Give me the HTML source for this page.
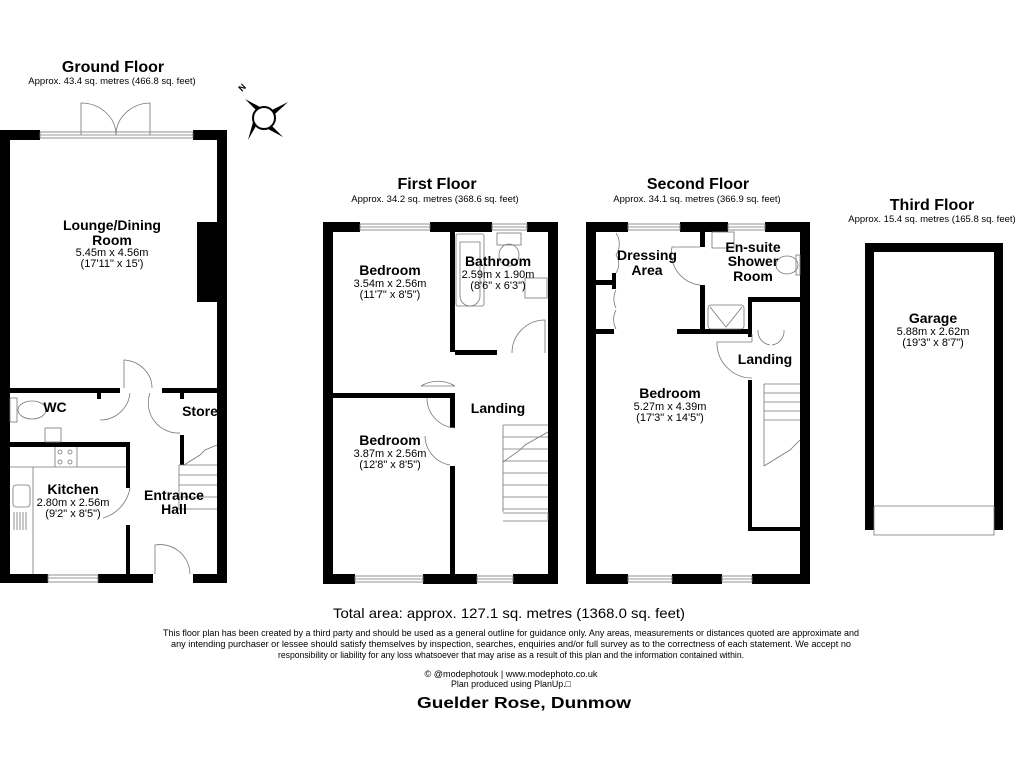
<!DOCTYPE html>
<html><head><meta charset="utf-8"><style>
html,body{margin:0;padding:0;background:#fff;}
svg{display:block;font-family:"Liberation Sans",Arial,sans-serif;}
.b{font-weight:bold;font-size:14px;}
.s{font-size:11px;}
.h{font-weight:bold;font-size:16px;}
</style></head><body>
<svg width="1024" height="768" viewBox="0 0 1024 768" xmlns="http://www.w3.org/2000/svg">
<rect width="1024" height="768" fill="#fff"/>

<!-- Titles -->
<text x="113" y="72" text-anchor="middle" class="h">Ground Floor</text>
<text x="112" y="84" text-anchor="middle" font-size="9.5">Approx. 43.4 sq. metres (466.8 sq. feet)</text>
<text x="437" y="189" text-anchor="middle" class="h">First Floor</text>
<text x="435" y="202" text-anchor="middle" font-size="9.5">Approx. 34.2 sq. metres (368.6 sq. feet)</text>
<text x="698" y="189" text-anchor="middle" class="h">Second Floor</text>
<text x="697" y="202" text-anchor="middle" font-size="9.5">Approx. 34.1 sq. metres (366.9 sq. feet)</text>
<text x="932" y="210" text-anchor="middle" class="h">Third Floor</text>
<text x="932" y="222" text-anchor="middle" font-size="9.5">Approx. 15.4 sq. metres (165.8 sq. feet)</text>

<!-- Compass -->
<g transform="translate(264,118)">
<circle r="11" fill="#fff" stroke="#000" stroke-width="2"/>
<polygon points="-8,-8 -19,-19 -4,-11" fill="#000"/>
<polygon points="8,-8 24,-16 11,-4" fill="#000"/>
<polygon points="8,8 19,19 4,11" fill="#000"/>
<polygon points="-8,8 -16,22 -11,4" fill="#000"/>
<text x="-22" y="-26" font-size="9" font-weight="bold" transform="rotate(-45 -22 -26)">N</text>
</g>

<g fill="#000">
<!-- ===== Ground floor ===== -->
<rect x="0" y="130" width="10" height="453"/>
<rect x="217" y="130" width="10" height="453"/>
<rect x="0" y="130" width="40" height="10"/>
<rect x="193" y="130" width="34" height="10"/>
<rect x="0" y="574" width="48" height="9"/>
<rect x="98" y="574" width="55" height="9"/>
<rect x="193" y="574" width="34" height="9"/>
<rect x="197" y="222" width="20" height="80"/>
<rect x="10" y="388" width="110" height="5"/>
<rect x="162" y="388" width="55" height="5"/>
<rect x="97" y="393" width="4" height="6"/>
<rect x="180" y="393" width="4" height="6"/>
<rect x="10" y="442" width="120" height="5"/>
<rect x="126" y="442" width="4" height="46"/>
<rect x="126" y="525" width="4" height="49"/>
<rect x="180" y="435" width="4" height="30"/>

<!-- ===== First floor ===== -->
<rect x="323" y="222" width="10" height="362"/>
<rect x="548" y="222" width="10" height="362"/>
<rect x="323" y="222" width="37" height="10"/>
<rect x="430" y="222" width="62" height="10"/>
<rect x="527" y="222" width="31" height="10"/>
<rect x="323" y="574" width="32" height="10"/>
<rect x="423" y="574" width="54" height="10"/>
<rect x="513" y="574" width="45" height="10"/>
<rect x="450" y="232" width="5" height="120"/>
<rect x="455" y="350" width="42" height="5"/>
<rect x="333" y="393" width="122" height="5"/>
<rect x="450" y="398" width="5" height="30"/>
<rect x="450" y="466" width="5" height="108"/>

<!-- ===== Second floor ===== -->
<rect x="586" y="222" width="10" height="362"/>
<rect x="800" y="222" width="10" height="362"/>
<rect x="586" y="222" width="42" height="10"/>
<rect x="680" y="222" width="48" height="10"/>
<rect x="765" y="222" width="45" height="10"/>
<rect x="586" y="574" width="42" height="10"/>
<rect x="672" y="574" width="50" height="10"/>
<rect x="752" y="574" width="58" height="10"/>
<rect x="596" y="280" width="18" height="5"/>
<rect x="612" y="273" width="4" height="16"/>
<rect x="596" y="329" width="18" height="5"/>
<rect x="700" y="232" width="5" height="15"/>
<rect x="700" y="285" width="5" height="49"/>
<rect x="677" y="329" width="75" height="5"/>
<rect x="748" y="297" width="52" height="5"/>
<rect x="748" y="297" width="4" height="40"/>
<rect x="800" y="329" width="0" height="0"/>
<rect x="748" y="380" width="4" height="150"/>
<rect x="748" y="527" width="52" height="4"/>

<!-- ===== Garage ===== -->
<rect x="865" y="243" width="138" height="9"/>
<rect x="865" y="243" width="9" height="287"/>
<rect x="994" y="243" width="9" height="287"/>
</g>

<g fill="none" stroke="#777" stroke-width="0.8">
<!-- windows -->
<rect x="40" y="132" width="153" height="6"/><line x1="40" y1="135" x2="193" y2="135"/>
<rect x="48" y="575" width="50" height="7"/><line x1="48" y1="578" x2="98" y2="578"/>
<rect x="360" y="224" width="70" height="6"/><line x1="360" y1="227" x2="430" y2="227"/>
<rect x="492" y="224" width="35" height="6"/><line x1="492" y1="227" x2="527" y2="227"/>
<rect x="355" y="576" width="68" height="6"/><line x1="355" y1="579" x2="423" y2="579"/>
<rect x="477" y="576" width="36" height="6"/><line x1="477" y1="579" x2="513" y2="579"/>
<rect x="628" y="224" width="52" height="6"/><line x1="628" y1="227" x2="680" y2="227"/>
<rect x="728" y="224" width="37" height="6"/><line x1="728" y1="227" x2="765" y2="227"/>
<rect x="628" y="576" width="44" height="6"/><line x1="628" y1="579" x2="672" y2="579"/>
<rect x="722" y="576" width="30" height="6"/><line x1="722" y1="579" x2="752" y2="579"/>
<!-- French doors -->
<path d="M81,135 V103 A35,32 0 0 1 116,135"/>
<path d="M150,135 V103 A35,32 0 0 0 116,135"/>
<!-- GF doors -->
<path d="M124,388 V360 A30,28 0 0 1 152,388"/>
<path d="M130,393 A30,30 0 0 1 100,420"/>
<path d="M150,393 A30,30 0 0 0 180,433"/>
<path d="M130,488 A38,38 0 0 1 103,518" />
<path d="M155,574 V545 A30,30 0 0 1 190,574"/>
<!-- GF stairs -->
<path d="M179,465 H217 M179,475 H217 M179,485 H217 M179,497 H217 M179,509 H217 M179,465 V510 M184,465 L200,455 L205,450 L217,445"/>
<!-- Kitchen units -->
<path d="M10,467 H33 V574 M33,467 H126 M55,447 V467 M77,447 V467"/>
<circle cx="60" cy="452" r="2"/><circle cx="70" cy="452" r="2"/><circle cx="60" cy="462" r="2"/><circle cx="70" cy="462" r="2"/>
<rect x="13" y="485" width="17" height="22" rx="3"/>
<path d="M14,512 V530 M17,512 V530 M20,512 V530 M23,512 V530 M26,512 V530"/>
<!-- WC -->
<rect x="10" y="398" width="7" height="24"/><ellipse cx="32" cy="410" rx="14" ry="9"/>
<rect x="45" y="428" width="16" height="14"/>
<!-- First floor -->
<path d="M455,386 A33,33 0 0 0 421,386 M421,386 H455" />
<path d="M455,428 A30,30 0 0 1 427,398" />
<path d="M425,436 A30,30 0 0 0 450,465"/>
<path d="M545,353 V320 A33,33 0 0 0 512,353"/>
<rect x="456" y="234" width="28" height="72" rx="2"/><path d="M460,242 V296 A10,10 0 0 0 480,296 V242 Z"/>
<rect x="497" y="233" width="24" height="12"/><ellipse cx="509" cy="255" rx="10" ry="11"/>
<rect x="525" y="278" width="22" height="20"/>
<path d="M503,425 H548 M503,437 H548 M503,449 H548 M503,461 H548 M503,473 H548 M503,485 H548 M503,497 H548 M503,509 H548 M503,521 H548 M503,425 V512 M503,513 H548 V520 M503,462 L520,450 L525,445 L548,432"/>
<!-- Second floor -->
<path d="M616,233 A20,20 0 0 1 616,255 M616,255 A16,16 0 0 1 616,273"/>
<path d="M616,290 A20,20 0 0 0 616,308 M616,310 A20,20 0 0 0 616,329"/>
<path d="M700,247 H672 A32,32 0 0 0 700,285"/>
<rect x="712" y="232" width="22" height="16"/>
<ellipse cx="787" cy="265" rx="11" ry="9"/><rect x="796" y="255" width="4" height="20"/>
<rect x="708" y="305" width="36" height="24" rx="3"/><path d="M710,307 L726,327 L742,307"/>
<path d="M752,334 V342 M758,330 A14,14 0 0 0 770,345 M784,330 A14,14 0 0 1 772,345"/>
<path d="M752,342 H717 A35,35 0 0 0 752,378"/>
<path d="M764,384 H800 M764,393 H800 M764,402 H800 M764,411 H800 M764,420 H800 M764,384 V466 M764,466 L790,450 L800,440"/>
<!-- Garage -->
<path d="M874,506 H994 M874,506 V535 H994 V506"/>
</g>

<!-- Room labels -->
<g text-anchor="middle">
<text x="112" y="230" class="b">Lounge/Dining</text>
<text x="112" y="245" class="b">Room</text>
<text x="112" y="256" class="s">5.45m x 4.56m</text>
<text x="112" y="267" class="s">(17'11" x 15')</text>
<text x="55" y="412" class="b">WC</text>
<text x="200" y="416" class="b">Store</text>
<text x="73" y="494" class="b">Kitchen</text>
<text x="73" y="506" class="s">2.80m x 2.56m</text>
<text x="73" y="517" class="s">(9'2" x 8'5")</text>
<text x="174" y="500" class="b">Entrance</text>
<text x="174" y="514" class="b">Hall</text>

<text x="390" y="275" class="b">Bedroom</text>
<text x="390" y="287" class="s">3.54m x 2.56m</text>
<text x="390" y="298" class="s">(11'7" x 8'5")</text>
<text x="498" y="266" class="b">Bathroom</text>
<text x="498" y="278" class="s">2.59m x 1.90m</text>
<text x="498" y="289" class="s">(8'6" x 6'3")</text>
<text x="498" y="413" class="b">Landing</text>
<text x="390" y="445" class="b">Bedroom</text>
<text x="390" y="457" class="s">3.87m x 2.56m</text>
<text x="390" y="468" class="s">(12'8" x 8'5")</text>

<text x="647" y="260" class="b">Dressing</text>
<text x="647" y="275" class="b">Area</text>
<text x="753" y="252" class="b">En-suite</text>
<text x="753" y="266" class="b">Shower</text>
<text x="753" y="281" class="b">Room</text>
<text x="765" y="364" class="b">Landing</text>
<text x="670" y="398" class="b">Bedroom</text>
<text x="670" y="410" class="s">5.27m x 4.39m</text>
<text x="670" y="421" class="s">(17'3" x 14'5")</text>

<text x="933" y="323" class="b">Garage</text>
<text x="933" y="335" class="s">5.88m x 2.62m</text>
<text x="933" y="346" class="s">(19'3" x 8'7")</text>

<text x="509" y="618" font-size="14" textLength="352" lengthAdjust="spacingAndGlyphs">Total area: approx. 127.1 sq. metres (1368.0 sq. feet)</text>
<text x="511" y="636" font-size="9" textLength="696" lengthAdjust="spacingAndGlyphs">This floor plan has been created by a third party and should be used as a general outline for guidance only. Any areas, measurements or distances quoted are approximate and</text>
<text x="511" y="647" font-size="9" textLength="680" lengthAdjust="spacingAndGlyphs">any intending purchaser or lessee should satisfy themselves by inspection, searches, enquiries and/or full survey as to the correctness of each statement. We accept no</text>
<text x="511" y="658" font-size="9" textLength="466" lengthAdjust="spacingAndGlyphs">responsibility or liability for any loss whatsoever that may arise as a result of this plan and the information contained within.</text>
<text x="511" y="677" font-size="9" textLength="173" lengthAdjust="spacingAndGlyphs">© @modephotouk | www.modephoto.co.uk</text>
<text x="511" y="687" font-size="9" textLength="120" lengthAdjust="spacingAndGlyphs">Plan produced using PlanUp.□</text>
<text x="524" y="708" font-size="16" font-weight="bold" textLength="214" lengthAdjust="spacingAndGlyphs">Guelder Rose, Dunmow</text>
</g>
</svg>
</body></html>
